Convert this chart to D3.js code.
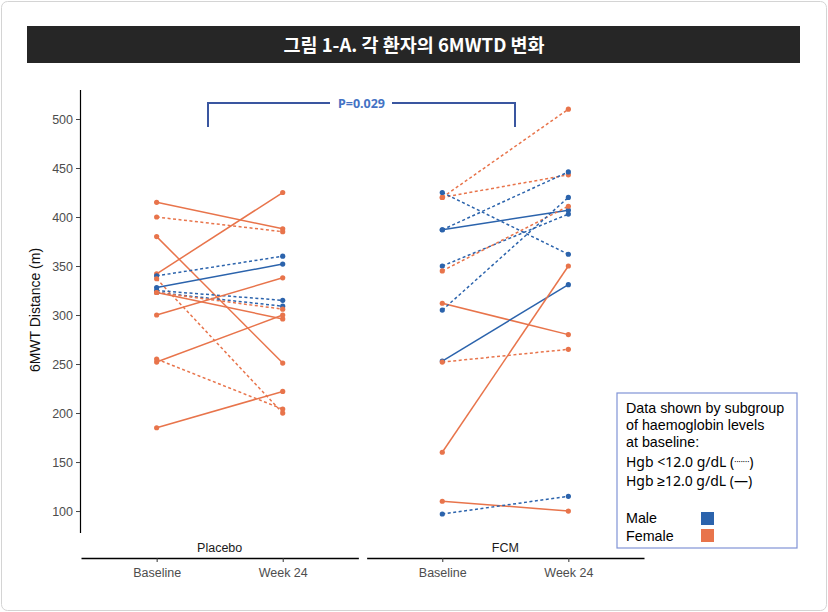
<!DOCTYPE html>
<html>
<head>
<meta charset="utf-8">
<script src="https://cdn.jsdelivr.net/npm/d3@7"></script>
<style>
  body { margin: 0; background: #fff; }
  text { font-family: "Liberation Sans", Arial, sans-serif; }
</style>
</head>
<body>
<div id="wrap"></div>
<script>
// values
var groups = ['Placebo', 'FCM'];
var timepoints = ['Baseline', 'Week 24'];
var yTicks = [100, 150, 200, 250, 300, 350, 400, 450, 500];

var placeboBaseline = [415, 400, 380, 342, 340, 337, 328, 325, 323, 323, 323, 300, 252, 255, 185];
var placeboWeek24   = [388, 385, 251, 425, 360, 200, 352, 315, 309, 306, 296, 338, 300, 204, 222];
var placeboSex      = ['F', 'F', 'F', 'F', 'M', 'F', 'M', 'M', 'M', 'F', 'F', 'F', 'F', 'F', 'F'];
var placeboLowHgb   = [0, 1, 0, 0, 1, 1, 0, 1, 1, 1, 0, 0, 0, 1, 0];

var fcmBaseline = [420, 420, 425, 387, 387, 350, 345, 312, 305, 253, 252, 160, 110, 97];
var fcmWeek24   = [510, 443, 362, 446, 407, 403, 411, 280, 420, 331, 265, 350, 100, 115];
var fcmSex      = ['F', 'F', 'M', 'M', 'M', 'M', 'F', 'F', 'M', 'M', 'F', 'F', 'F', 'M'];
var fcmLowHgb   = [1, 1, 1, 1, 0, 1, 1, 0, 1, 0, 1, 0, 0, 1];

var pLabel = 'P=0.029';
var titleText = '그림 1-A. 각 환자의 6MWTD 변화';

var colors = {M: '#2b63ac', F: '#e8744b'};

var W = 828, H = 612;
var svg = d3.select('#wrap').append('svg')
  .attr('width', W).attr('height', H);

// frame + title bar
svg.append('rect')
  .attr('x', 1.5).attr('y', 1.5).attr('width', W - 3).attr('height', H - 3)
  .attr('rx', 6).attr('fill', '#fff').attr('stroke', '#d4d4d4');
svg.append('rect')
  .attr('x', 27).attr('y', 26).attr('width', 773).attr('height', 37)
  .attr('fill', '#262626');
svg.append('text')
  .attr('x', 414).attr('y', 51.5)
  .attr('text-anchor', 'middle')
  .attr('fill', '#fff')
  .style('font-family', '"Noto Sans CJK KR", sans-serif')
  .style('font-weight', 'bold')
  .style('font-size', '18.5px')
  .text(titleText);

var y = d3.scaleLinear().domain([78, 530]).range([532.6, 89.6]);

var panels = d3.scaleBand().domain(groups).range([81, 644]).paddingInner(0.029);

var x = d3.scalePoint().domain(timepoints).range([0, panels.bandwidth()]).padding(0.6);

// y axis
var yAxis = svg.append('g')
  .attr('transform', 'translate(80,0)')
  .call(d3.axisLeft(y).tickValues(yTicks).tickSize(4).tickSizeOuter(0));
yAxis.select('.domain').attr('stroke', '#000').attr('stroke-width', 1.2);
yAxis.selectAll('.tick line').attr('stroke', '#444');
yAxis.selectAll('.tick text')
  .attr('fill', '#4d4d4d')
  .style('font-size', '12.5px')
  .style('font-family', '"Liberation Sans", Arial, sans-serif');

svg.append('text')
  .attr('transform', 'translate(40,310) rotate(-90)')
  .attr('text-anchor', 'middle')
  .style('font-size', '14px')
  .attr('fill', '#111')
  .text('6MWT Distance (m)');

var panelData = [
  {name: 'Placebo', base: placeboBaseline, wk: placeboWeek24, sex: placeboSex, low: placeboLowHgb},
  {name: 'FCM', base: fcmBaseline, wk: fcmWeek24, sex: fcmSex, low: fcmLowHgb}
];

panelData.forEach(function(p) {
  var g = svg.append('g').attr('transform', 'translate(' + panels(p.name) + ',0)');

  var subjects = p.base.map(function(b, i) {
    return {b: b, w: p.wk[i], sex: p.sex[i], low: p.low[i]};
  });

  g.selectAll('.subj')
    .data(subjects)
    .enter().append('line')
      .attr('x1', x('Baseline'))
      .attr('x2', x('Week 24'))
      .attr('y1', function(d) { return y(d.b); })
      .attr('y2', function(d) { return y(d.w); })
      .attr('stroke', function(d) { return colors[d.sex]; })
      .attr('stroke-width', 1.5)
      .attr('stroke-dasharray', function(d) { return d.low ? '3,2.5' : null; });

  var pts = [];
  subjects.forEach(function(d) {
    pts.push({t: 'Baseline', v: d.b, sex: d.sex});
    pts.push({t: 'Week 24', v: d.w, sex: d.sex});
  });
  g.selectAll('.pt')
    .data(pts)
    .enter().append('circle')
      .attr('r', 2.6)
      .attr('cx', function(d) { return x(d.t); })
      .attr('cy', function(d) { return y(d.v); })
      .attr('fill', function(d) { return colors[d.sex]; });

  // strip label
  g.append('text')
    .attr('x', panels.bandwidth() / 2)
    .attr('y', 552)
    .attr('text-anchor', 'middle')
    .style('font-size', '12.5px')
    .attr('fill', '#1a1a1a')
    .text(p.name);

  var xAxis = g.append('g')
    .attr('transform', 'translate(0,558)')
    .call(d3.axisBottom(x).tickSize(4).tickSizeOuter(0));
  xAxis.select('.domain').attr('stroke', '#000').attr('stroke-width', 1.4);
  xAxis.selectAll('.tick line').attr('stroke', '#333');
  xAxis.selectAll('.tick text')
    .attr('fill', '#4d4d4d')
    .attr('dy', '0.95em')
    .style('font-size', '12.5px')
    .style('font-family', '"Liberation Sans", Arial, sans-serif');
});

// significance bracket
var bx1 = 208, bx2 = 515, by = 103;
var bracket = svg.append('g').attr('stroke', '#3a56a0').attr('stroke-width', 2).attr('fill', 'none');
bracket.append('path').attr('d', 'M' + bx1 + ',127 V' + by + ' H330');
bracket.append('path').attr('d', 'M392,' + by + ' H' + bx2 + ' V127');
svg.append('text')
  .attr('x', (bx1 + bx2) / 2).attr('y', by + 4.5)
  .attr('text-anchor', 'middle')
  .attr('fill', '#4472c4')
  .style('font-family', '"Noto Sans", sans-serif')
  .style('font-weight', 'bold')
  .style('font-size', '12.5px')
  .text(pLabel);

// legend
var lg = svg.append('g').attr('transform', 'translate(617,393)');
lg.append('rect')
  .attr('width', 180).attr('height', 155)
  .attr('fill', '#fff').attr('stroke', '#8093d6').attr('stroke-width', 1.2);
var legendLines = ['Data shown by subgroup', 'of haemoglobin levels', 'at baseline:'];
lg.selectAll('.lt')
  .data(legendLines)
  .enter().append('text')
    .attr('x', 9)
    .attr('y', function(d, i) { return 20 + i * 17; })
    .style('font-size', '14.3px')
    .text(function(d) { return d; });
var h1 = lg.append('text').attr('x', 9).attr('y', 74).style('font-size', '14px')
  .style('font-family', '"Noto Sans", sans-serif');
h1.append('tspan').text('Hgb <12.0 g/dL (');
h1.append('tspan').style('font-size', '8px').attr('dy', -2).text('·······');
h1.append('tspan').attr('dy', 2).text(')');
lg.append('text').attr('x', 9).attr('y', 93).style('font-size', '14px')
  .style('font-family', '"Noto Sans", sans-serif')
  .text('Hgb ≥12.0 g/dL (—)');

var sexes = [{k: 'M', label: 'Male'}, {k: 'F', label: 'Female'}];
sexes.forEach(function(s, i) {
  lg.append('text').attr('x', 9).attr('y', 130 + i * 18)
    .style('font-size', '14.3px').text(s.label);
  lg.append('rect').attr('x', 84).attr('y', 119 + i * 17)
    .attr('width', 13).attr('height', 13)
    .attr('fill', colors[s.k]);
});
</script>
</body>
</html>
